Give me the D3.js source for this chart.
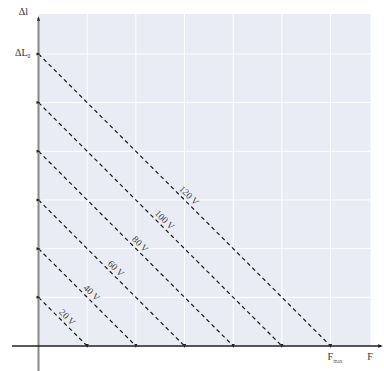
<!DOCTYPE html>
<html><head><meta charset="utf-8">
<script src="https://cdn.jsdelivr.net/npm/d3@7"></script>
<style>html,body{margin:0;padding:0;background:#fff;}svg{display:block;}</style>
</head><body>
<svg id="c" width="384" height="371"></svg>
<script>
const voltages = ["20 V","40 V","60 V","80 V","100 V","120 V"];
const forceIntercepts = [1,2,3,4,5,6];
const elongIntercepts = [1,2,3,4,5,6];
const gridValues = [1,2,3,4,5,6];
const yLabel = "Δl", y0Label = "ΔL", y0Sub = "0", xLabel = "F", xMaxLabel = "F", xMaxSub = "max";
const domainMax = 6.82;

const svg = d3.select("#c");
const x = d3.scaleLinear().domain([0, domainMax]).range([38.5, 370.5]);
const y = d3.scaleLinear().domain([0, domainMax]).range([346, 14]);
const serif = "'Liberation Serif','DejaVu Serif',serif";

svg.append("rect").attr("x", x(0)).attr("y", y(domainMax))
  .attr("width", x(domainMax) - x(0)).attr("height", y(0) - y(domainMax))
  .attr("fill", "#e9ebf5");

svg.selectAll("line.gx").data(gridValues).join("line")
  .attr("x1", d => x(d)).attr("x2", d => x(d)).attr("y1", y(0)).attr("y2", y(domainMax))
  .attr("stroke", "#fff").attr("stroke-width", 1);
svg.selectAll("line.gy").data(gridValues).join("line")
  .attr("y1", d => y(d)).attr("y2", d => y(d)).attr("x1", x(0)).attr("x2", x(domainMax))
  .attr("stroke", "#fff").attr("stroke-width", 1);

const rows = voltages.map((v, i) => ({v, f: forceIntercepts[i], l: elongIntercepts[i]}));

svg.selectAll("line.v").data(rows).join("line")
  .attr("x1", x(0)).attr("y1", d => y(d.l)).attr("x2", d => x(d.f)).attr("y2", y(0))
  .attr("stroke", "#1a1a1a").attr("stroke-width", 1.2).attr("stroke-dasharray", "4,3.2");

// axes
svg.append("line").attr("x1", x(0)).attr("x2", x(0)).attr("y1", 18).attr("y2", 371)
  .attr("stroke", "#888").attr("stroke-width", 2);
svg.append("path").attr("d", `M${x(0)-1.5},21 L${x(0)},16 L${x(0)+1.5},21 Z`).attr("fill", "#333");
svg.append("line").attr("x1", 12).attr("x2", 381).attr("y1", y(0)).attr("y2", y(0))
  .attr("stroke", "#222").attr("stroke-width", 1.3);
svg.append("path").attr("d", `M378,${y(0)-1.8} L383,${y(0)} L378,${y(0)+1.8} Z`).attr("fill", "#222");

// end markers
svg.selectAll("path.my").data(rows).join("path")
  .attr("d", d => `M${x(0)-2},${y(d.l)-1.5} L${x(0)+2},${y(d.l)} L${x(0)-2},${y(d.l)+1.5} Z`)
  .attr("fill", "#222");
svg.selectAll("path.mx").data(rows).join("path")
  .attr("d", d => `M${x(d.f)-1.5},${y(0)-2} L${x(d.f)},${y(0)+2} L${x(d.f)+1.5},${y(0)-2} Z`)
  .attr("fill", "#222");

// line labels
svg.selectAll("text.lab").data(rows).join("text")
  .attr("transform", d => {
    const mx = (x(0) + x(d.f)) / 2 + 4.6, my = (y(d.l) + y(0)) / 2 - 4.6;
    return `translate(${mx},${my}) rotate(45)`;
  })
  .attr("text-anchor", "middle").attr("dy", "0.35em")
  .attr("font-family", serif).attr("font-size", 9.5).attr("fill", "#444")
  .text(d => d.v);

// axis labels
svg.append("text").attr("x", 28).attr("y", 15).attr("text-anchor", "end")
  .attr("font-family", serif).attr("font-size", 10).attr("fill", "#333").text(yLabel);
const t0 = svg.append("text").attr("x", 15).attr("y", y(6) + 2)
  .attr("font-family", serif).attr("font-size", 10).attr("fill", "#333");
t0.append("tspan").text(y0Label);
t0.append("tspan").attr("font-size", 5.5).attr("dy", 2.5).text(y0Sub);
const tm = svg.append("text").attr("x", x(6) - 3).attr("y", 360)
  .attr("font-family", serif).attr("font-size", 10).attr("fill", "#333");
tm.append("tspan").text(xMaxLabel);
tm.append("tspan").attr("font-size", 5.5).attr("dy", 3).attr("fill", "#666").text(xMaxSub);
svg.append("text").attr("x", 370).attr("y", 360).attr("text-anchor", "middle")
  .attr("font-family", serif).attr("font-size", 10).attr("fill", "#333").text(xLabel);
</script>
</body></html>
